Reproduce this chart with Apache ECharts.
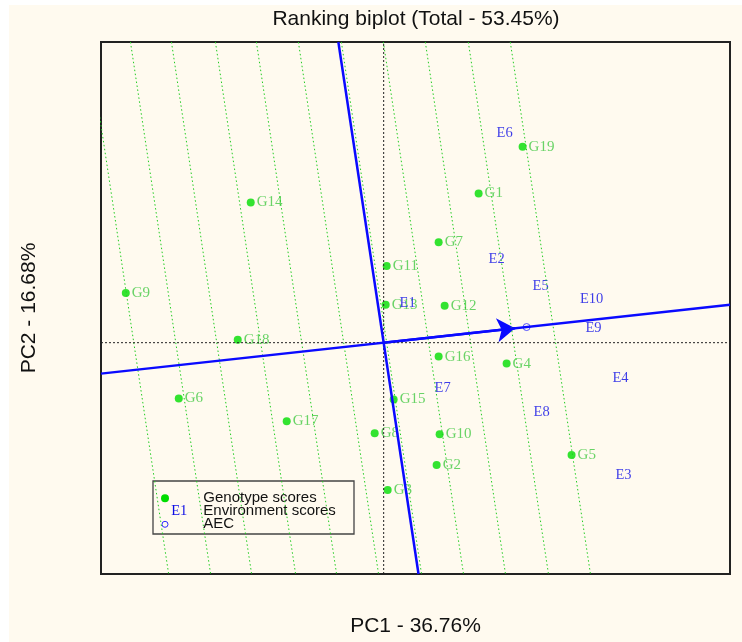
<!DOCTYPE html>
<html>
<head>
<meta charset="utf-8">
<script src="https://cdn.jsdelivr.net/npm/echarts@6.0.0/dist/echarts.min.js"></script>
<style>
  html, body { margin: 0; padding: 0; background: #ffffff; }
  #chart { position: absolute; left: 9px; top: 5px; width: 733px; height: 637px; background: #fffaef; }
</style>
</head>
<body>
<div id="chart"></div>
<script>
// genotype scores (PC1, PC2)
var genotypes = ['G1', 'G2', 'G3', 'G4', 'G5', 'G6', 'G7', 'G8', 'G9', 'G10',
                 'G11', 'G12', 'G13', 'G14', 'G15', 'G16', 'G17', 'G18', 'G19'];
var genoPC1 = [0.95, 0.53, 0.04, 1.23, 1.88, -2.05, 0.55, -0.09, -2.58, 0.56,
               0.03, 0.61, 0.02, -1.33, 0.10, 0.55, -0.97, -1.46, 1.39];
var genoPC2 = [1.50, -1.23, -1.48, -0.21, -1.13, -0.56, 1.01, -0.91, 0.50, -0.92,
               0.77, 0.37, 0.38, 1.41, -0.57, -0.14, -0.79, 0.03, 1.97];

// environment scores
var environments = ['E1', 'E2', 'E3', 'E4', 'E5', 'E6', 'E7', 'E8', 'E9', 'E10'];
var envPC1 = [0.24, 1.13, 2.40, 2.37, 1.57, 1.21, 0.59, 1.58, 2.10, 2.08];
var envPC2 = [0.40, 0.84, -1.33, -0.36, 0.57, 2.11, -0.46, -0.70, 0.15, 0.44];

// average environment coordinate and axes
var aec = [1.43, 0.157];
var aecSlope = 0.11;       // abscissa through origin
var ordSlope = -0.15;      // ordinate: x = ordSlope * y
var arrowTip = 1.315;
// ranking lines (PC1 at PC2 = 0), parallel to AEC ordinate
var rankLines = [-2.50, -2.08, -1.67, -1.23, -0.82, -0.40, 0.03, 0.45, 0.87, 1.30, 1.72];

var xMin = -2.828, xMax = 3.465, yMin = -2.325, yMax = 3.022;

var chart = echarts.init(document.getElementById('chart'));

var series = [];
rankLines.forEach(function (c) {
    series.push({
        type: 'line',
        data: [[c + ordSlope * yMax, yMax], [c + ordSlope * yMin, yMin]],
        symbol: 'none',
        lineStyle: { color: '#22cc22', width: 1, type: [1.5, 2.5] },
        silent: true
    });
});
series.push({
    type: 'line',
    data: [[xMin, 0], [xMax, 0]],
    symbol: 'none',
    lineStyle: { color: '#222', width: 1, type: [2, 2] }
});
series.push({
    type: 'line',
    data: [[0, yMin], [0, yMax]],
    symbol: 'none',
    lineStyle: { color: '#222', width: 1, type: [2, 2] }
});
series.push({
    type: 'line',
    data: [[xMin, aecSlope * xMin], [xMax, aecSlope * xMax]],
    symbol: 'none',
    lineStyle: { color: '#0a0aff', width: 2.5 }
});
series.push({
    type: 'line',
    data: [[ordSlope * yMax, yMax], [ordSlope * yMin, yMin]],
    symbol: 'none',
    lineStyle: { color: '#0a0aff', width: 2.5 }
});
series.push({
    type: 'lines',
    coordinateSystem: 'cartesian2d',
    symbol: ['none', 'arrow'],
    symbolSize: 18,
    lineStyle: { color: '#0a0aff', width: 2.5, opacity: 1 },
    data: [{ coords: [[0, 0], [arrowTip, aecSlope * arrowTip]] }]
});
series.push({
    type: 'scatter',
    data: [aec],
    symbol: 'circle',
    symbolSize: 7,
    itemStyle: { color: 'rgba(0,0,0,0)', borderColor: '#2a2aff', borderWidth: 1 }
});
series.push({
    type: 'scatter',
    symbolSize: 8,
    itemStyle: { color: '#00dd00' },
    label: {
        show: true,
        position: 'right',
        distance: 2,
        formatter: '{b}',
        color: '#44c944',
        fontFamily: 'Liberation Serif',
        fontSize: 15
    },
    data: genotypes.map(function (g, i) {
        return { name: g, value: [genoPC1[i], genoPC2[i]] };
    })
});
series.push({
    type: 'scatter',
    symbolSize: 1,
    itemStyle: { color: 'rgba(0,0,0,0)' },
    label: {
        show: true,
        position: 'inside',
        formatter: '{b}',
        color: '#0c0ce6',
        fontFamily: 'Liberation Serif',
        fontSize: 14.5
    },
    data: environments.map(function (e, i) {
        return { name: e, value: [envPC1[i], envPC2[i]] };
    })
});

var option = {
    animation: false,
    grid: {
        left: 92, top: 37, width: 629, height: 535,
        show: true,
        borderColor: '#222',
        borderWidth: 2
    },
    xAxis: {
        type: 'value', min: xMin, max: xMax,
        axisLine: { show: false }, axisTick: { show: false },
        axisLabel: { show: false }, splitLine: { show: false },
        name: 'PC1 - 36.76%',
        nameLocation: 'middle',
        nameGap: 42,
        nameTextStyle: { fontFamily: 'Liberation Sans', fontSize: 21, color: '#111' }
    },
    yAxis: {
        type: 'value', min: yMin, max: yMax,
        axisLine: { show: false }, axisTick: { show: false },
        axisLabel: { show: false }, splitLine: { show: false },
        name: 'PC2 - 16.68%',
        nameLocation: 'middle',
        nameRotate: 90,
        nameGap: 61,
        nameTextStyle: { fontFamily: 'Liberation Sans', fontSize: 21, color: '#111' }
    },
    graphic: [
        {
            type: 'text',
            style: {
                text: 'Ranking biplot (Total - 53.45%)', x: 407, y: 14,
                textAlign: 'center', textVerticalAlign: 'middle',
                font: '21px "Liberation Sans"', fill: '#111'
            }
        },
        {
            type: 'rect',
            shape: { x: 144, y: 476, width: 201, height: 53 },
            style: { fill: 'none', stroke: '#444', lineWidth: 1.3 }
        },
        {
            type: 'circle',
            shape: { cx: 156, cy: 493.3, r: 4 },
            style: { fill: '#00dd00' }
        },
        {
            type: 'text',
            style: {
                text: 'E1', x: 170.3, y: 505.7, textAlign: 'center', textVerticalAlign: 'middle',
                font: '14.5px "Liberation Serif"', fill: '#0c0ce6'
            }
        },
        {
            type: 'circle',
            shape: { cx: 156, cy: 519.3, r: 3 },
            style: { fill: 'none', stroke: '#2a2aff', lineWidth: 1 }
        },
        {
            type: 'text',
            style: {
                text: 'Genotype scores', x: 194.3, y: 493, textVerticalAlign: 'middle',
                font: '15px "Liberation Sans"', fill: '#111'
            }
        },
        {
            type: 'text',
            style: {
                text: 'Environment scores', x: 194.3, y: 505.7, textVerticalAlign: 'middle',
                font: '15px "Liberation Sans"', fill: '#111'
            }
        },
        {
            type: 'text',
            style: {
                text: 'AEC', x: 194.3, y: 518.5, textVerticalAlign: 'middle',
                font: '15px "Liberation Sans"', fill: '#111'
            }
        }
    ],
    series: series
};
chart.setOption(option);
window.onresize = chart.resize;
</script>
</body>
</html>
